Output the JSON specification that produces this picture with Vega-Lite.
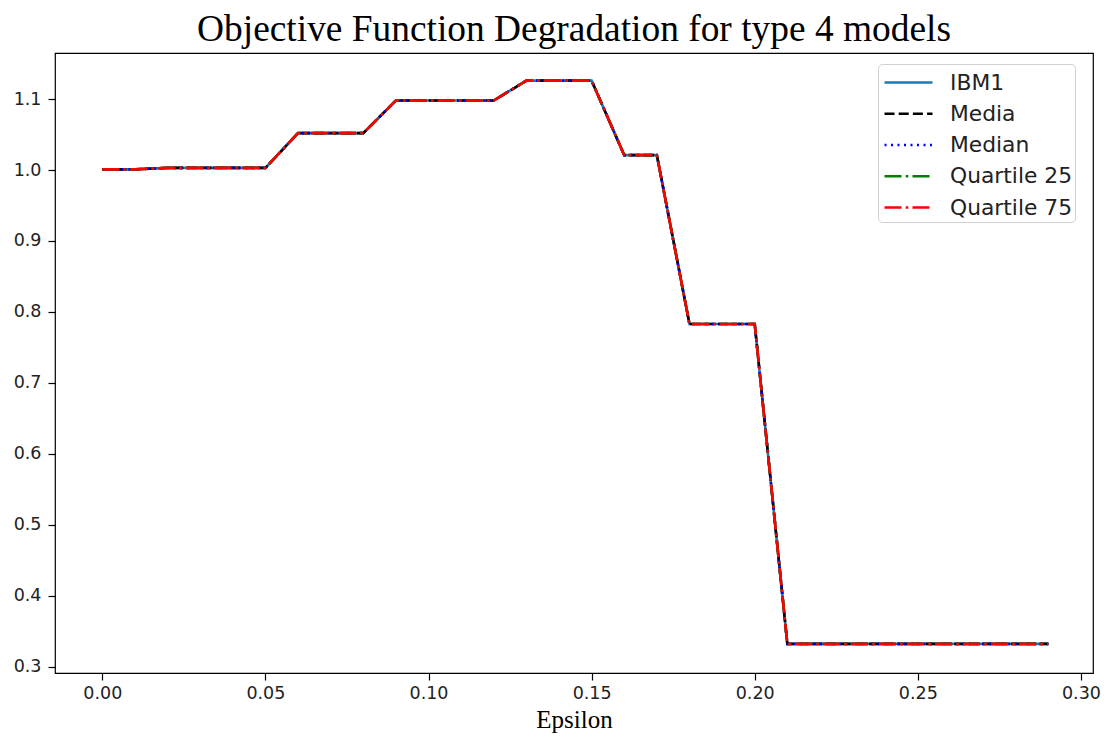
{
  "$schema": "https://vega.github.io/schema/vega-lite/v6.json",
  "width": 1038,
  "height": 620,
  "autosize": {"type": "none"},
  "padding": {"left": 55, "top": 53, "right": 11, "bottom": 65},
  "background": "white",
  "title": {
    "text": "Objective Function Degradation for type 4 models",
    "font": "Liberation Serif",
    "fontSize": 37.4,
    "fontWeight": "normal",
    "color": "black",
    "anchor": "middle",
    "offset": 5
  },
  "data": {
    "values": [
      {"eps": 0.00, "IBM1": 1.001, "Media": 1.001, "Median": 1.001, "Quartile 25": 1.001, "Quartile 75": 1.001},
      {"eps": 0.01, "IBM1": 1.001, "Media": 1.001, "Median": 1.001, "Quartile 25": 1.001, "Quartile 75": 1.001},
      {"eps": 0.02, "IBM1": 1.003, "Media": 1.003, "Median": 1.003, "Quartile 25": 1.003, "Quartile 75": 1.003},
      {"eps": 0.03, "IBM1": 1.003, "Media": 1.003, "Median": 1.003, "Quartile 25": 1.003, "Quartile 75": 1.003},
      {"eps": 0.04, "IBM1": 1.003, "Media": 1.003, "Median": 1.003, "Quartile 25": 1.003, "Quartile 75": 1.003},
      {"eps": 0.05, "IBM1": 1.003, "Media": 1.003, "Median": 1.003, "Quartile 25": 1.003, "Quartile 75": 1.003},
      {"eps": 0.06, "IBM1": 1.052, "Media": 1.052, "Median": 1.052, "Quartile 25": 1.052, "Quartile 75": 1.052},
      {"eps": 0.07, "IBM1": 1.052, "Media": 1.052, "Median": 1.052, "Quartile 25": 1.052, "Quartile 75": 1.052},
      {"eps": 0.08, "IBM1": 1.052, "Media": 1.052, "Median": 1.052, "Quartile 25": 1.052, "Quartile 75": 1.052},
      {"eps": 0.09, "IBM1": 1.098, "Media": 1.098, "Median": 1.098, "Quartile 25": 1.098, "Quartile 75": 1.098},
      {"eps": 0.10, "IBM1": 1.098, "Media": 1.098, "Median": 1.098, "Quartile 25": 1.098, "Quartile 75": 1.098},
      {"eps": 0.11, "IBM1": 1.098, "Media": 1.098, "Median": 1.098, "Quartile 25": 1.098, "Quartile 75": 1.098},
      {"eps": 0.12, "IBM1": 1.098, "Media": 1.098, "Median": 1.098, "Quartile 25": 1.098, "Quartile 75": 1.098},
      {"eps": 0.13, "IBM1": 1.126, "Media": 1.126, "Median": 1.126, "Quartile 25": 1.126, "Quartile 75": 1.126},
      {"eps": 0.14, "IBM1": 1.126, "Media": 1.126, "Median": 1.126, "Quartile 25": 1.126, "Quartile 75": 1.126},
      {"eps": 0.15, "IBM1": 1.126, "Media": 1.126, "Median": 1.126, "Quartile 25": 1.126, "Quartile 75": 1.126},
      {"eps": 0.16, "IBM1": 1.021, "Media": 1.021, "Median": 1.021, "Quartile 25": 1.021, "Quartile 75": 1.021},
      {"eps": 0.17, "IBM1": 1.021, "Media": 1.021, "Median": 1.021, "Quartile 25": 1.021, "Quartile 75": 1.021},
      {"eps": 0.18, "IBM1": 0.783, "Media": 0.783, "Median": 0.783, "Quartile 25": 0.783, "Quartile 75": 0.783},
      {"eps": 0.19, "IBM1": 0.783, "Media": 0.783, "Median": 0.783, "Quartile 25": 0.783, "Quartile 75": 0.783},
      {"eps": 0.20, "IBM1": 0.783, "Media": 0.783, "Median": 0.783, "Quartile 25": 0.783, "Quartile 75": 0.783},
      {"eps": 0.21, "IBM1": 0.332, "Media": 0.332, "Median": 0.332, "Quartile 25": 0.332, "Quartile 75": 0.332},
      {"eps": 0.22, "IBM1": 0.332, "Media": 0.332, "Median": 0.332, "Quartile 25": 0.332, "Quartile 75": 0.332},
      {"eps": 0.23, "IBM1": 0.332, "Media": 0.332, "Median": 0.332, "Quartile 25": 0.332, "Quartile 75": 0.332},
      {"eps": 0.24, "IBM1": 0.332, "Media": 0.332, "Median": 0.332, "Quartile 25": 0.332, "Quartile 75": 0.332},
      {"eps": 0.25, "IBM1": 0.332, "Media": 0.332, "Median": 0.332, "Quartile 25": 0.332, "Quartile 75": 0.332},
      {"eps": 0.26, "IBM1": 0.332, "Media": 0.332, "Median": 0.332, "Quartile 25": 0.332, "Quartile 75": 0.332},
      {"eps": 0.27, "IBM1": 0.332, "Media": 0.332, "Median": 0.332, "Quartile 25": 0.332, "Quartile 75": 0.332},
      {"eps": 0.28, "IBM1": 0.332, "Media": 0.332, "Median": 0.332, "Quartile 25": 0.332, "Quartile 75": 0.332},
      {"eps": 0.29, "IBM1": 0.332, "Media": 0.332, "Median": 0.332, "Quartile 25": 0.332, "Quartile 75": 0.332}
    ]
  },
  "transform": [
    {"fold": ["IBM1", "Media", "Median", "Quartile 25", "Quartile 75"], "as": ["series", "value"]}
  ],
  "mark": {"type": "line", "strokeWidth": 2.6, "strokeCap": "butt", "clip": true},
  "encoding": {
    "x": {
      "field": "eps",
      "type": "quantitative",
      "title": "Epsilon",
      "scale": {"domain": [-0.0145, 0.3037], "nice": false, "zero": false},
      "axis": {
        "values": [0, 0.05, 0.1, 0.15, 0.2, 0.25, 0.3],
        "format": ".2f",
        "grid": false,
        "domain": false,
        "tickColor": "black",
        "tickSize": 7,
        "tickWidth": 1.2,
        "labelFont": "DejaVu Sans",
        "labelFontSize": 17.5,
        "labelColor": "#222",
        "labelPadding": 4,
        "labelFlush": false,
        "titleFont": "Liberation Serif",
        "titleFontSize": 25,
        "titleFontWeight": "normal",
        "titleColor": "black",
        "titlePadding": 6
      }
    },
    "y": {
      "field": "value",
      "type": "quantitative",
      "title": null,
      "scale": {"domain": [0.291, 1.165], "nice": false, "zero": false},
      "axis": {
        "values": [0.3, 0.4, 0.5, 0.6, 0.7, 0.8, 0.9, 1.0, 1.1],
        "format": ".1f",
        "grid": false,
        "domain": false,
        "tickColor": "black",
        "tickSize": 7,
        "tickWidth": 1.2,
        "labelFont": "DejaVu Sans",
        "labelFontSize": 17.5,
        "labelColor": "#222",
        "labelPadding": 7,
        "labelFlush": false
      }
    },
    "color": {
      "field": "series",
      "type": "nominal",
      "sort": ["IBM1", "Media", "Median", "Quartile 25", "Quartile 75"],
      "scale": {
        "domain": ["IBM1", "Media", "Median", "Quartile 25", "Quartile 75"],
        "range": ["#1f77b4", "#000000", "#0000ff", "#008000", "#ff0000"]
      },
      "legend": {
        "title": null,
        "orient": "none",
        "legendX": 823,
        "legendY": 11,
        "padding": 2,
        "strokeColor": "#d0d0d0",
        "fillColor": "white",
        "cornerRadius": 4,
        "symbolType": "M-1.6,0H1.6",
        "symbolSize": 900,
        "symbolOffset": 12,
        "symbolStrokeWidth": 2.6,
        "labelFont": "DejaVu Sans",
        "labelFontSize": 21.8,
        "labelColor": "#222",
        "labelOffset": 25,
        "labelExpr": "datum.label + '\u00a0\u00a0'",
        "rowPadding": 2.25
      }
    },
    "strokeDash": {
      "field": "series",
      "type": "nominal",
      "sort": ["IBM1", "Media", "Median", "Quartile 25", "Quartile 75"],
      "scale": {
        "domain": ["IBM1", "Media", "Median", "Quartile 25", "Quartile 75"],
        "range": [[1, 0], [10, 4.2], [2, 4.5], [17, 4.2, 2.6, 4.2], [17, 4.2, 2.6, 4.2]]
      },
      "legend": null
    },
    "order": {"field": "eps", "type": "quantitative"}
  },
  "config": {
    "view": {"stroke": "black", "strokeWidth": 1.2}
  }
}
